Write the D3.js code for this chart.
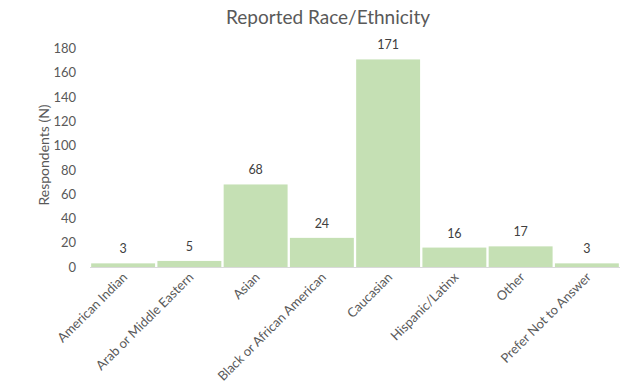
<!DOCTYPE html>
<html><head><meta charset="utf-8">
<script src="https://cdn.jsdelivr.net/npm/d3@7"></script>
<style>body{margin:0;background:#fff}svg{display:block}text{font-family:Lato,"Open Sans",sans-serif}</style>
</head><body><svg id="c" width="621" height="382"></svg>
<script>
const categories=["American Indian","Arab or Middle Eastern","Asian","Black or African American","Caucasian","Hispanic/Latinx","Other","Prefer Not to Answer"];
const values=[3,5,68,24,171,16,17,3];
const yTicks=[0,20,40,60,80,100,120,140,160,180];
const svg=d3.select("#c");
const x=d3.scaleBand().domain(categories).range([90,620]).paddingInner(0.035).paddingOuter(0.0175);
const y=d3.scaleLinear().domain([0,180]).range([267,48.5]);
const fg="#595959";
svg.append("text").attr("x",328).attr("y",24).attr("text-anchor","middle").attr("fill",fg).attr("font-size",19).text("Reported Race/Ethnicity");
const ya=svg.append("g").attr("transform","translate(90,0)").call(d3.axisLeft(y).tickValues(yTicks).tickSize(0).tickPadding(14));
ya.select(".domain").remove();
ya.selectAll("text").attr("fill",fg).attr("font-size",13).attr("font-family","Lato,sans-serif");
svg.append("text").attr("transform","translate(49,155) rotate(-90)").attr("text-anchor","middle").attr("fill",fg).attr("font-size",14).text("Respondents (N)");
svg.append("g").selectAll("rect").data(values).join("rect")
 .attr("x",(d,i)=>x(categories[i])).attr("width",x.bandwidth())
 .attr("y",d=>y(d)).attr("height",d=>y(0)-y(d)).attr("fill","#c5e0b4");
svg.append("line").attr("x1",90).attr("x2",620).attr("y1",267.5).attr("y2",267.5).attr("stroke","#d9d9d9").attr("stroke-width",1);
svg.append("g").selectAll("text").data(values).join("text")
 .attr("x",(d,i)=>x(categories[i])+x.bandwidth()/2).attr("y",d=>y(d)-10)
 .attr("text-anchor","middle").attr("fill","#404040").attr("font-size",12.5).text(d=>d);
const xa=svg.append("g").attr("transform","translate(0,268)").call(d3.axisBottom(x).tickSize(0).tickPadding(0));
xa.select(".domain").remove();
xa.selectAll("text").attr("fill",fg).attr("font-size",13).attr("font-family","Lato,sans-serif")
 .attr("text-anchor","end").attr("dy",0).attr("transform","translate(5,10) rotate(-45)");
</script></body></html>
